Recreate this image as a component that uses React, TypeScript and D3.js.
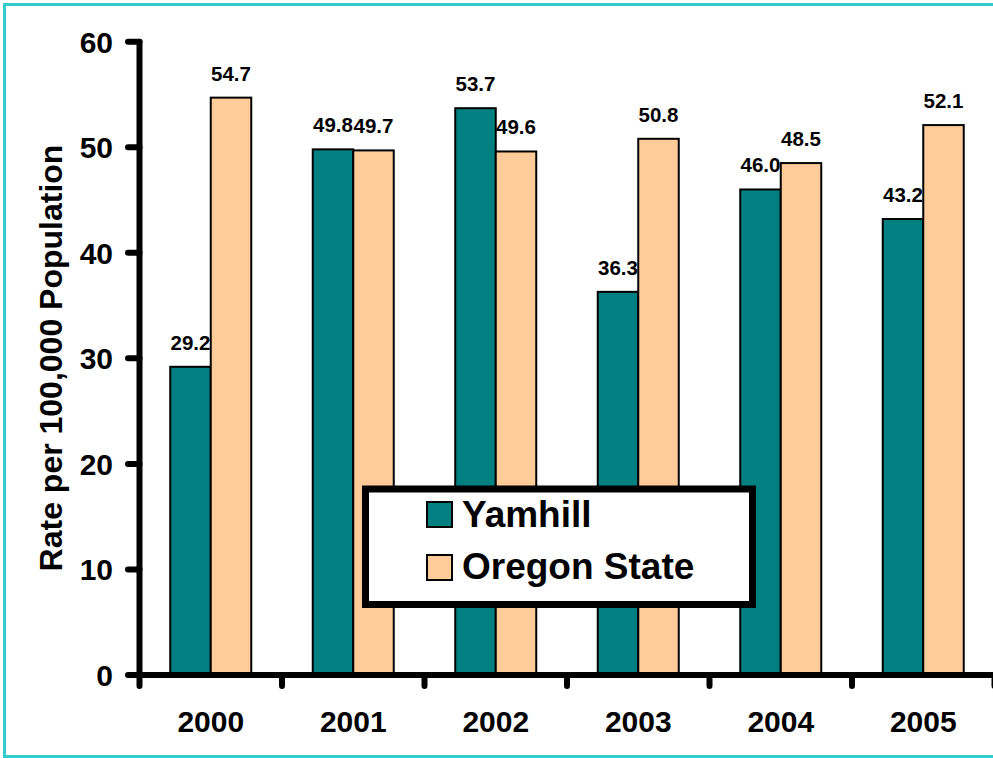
import React from "react";
import * as d3 from "d3";

const years = ["2000", "2001", "2002", "2003", "2004", "2005"];
const yamhill = [29.2, 49.8, 53.7, 36.3, 46.0, 43.2];
const oregon = [54.7, 49.7, 49.6, 50.8, 48.5, 52.1];
const seriesNames = ["Yamhill", "Oregon State"];
const yTicks = [0, 10, 20, 30, 40, 50, 60];
const yTitle = "Rate per 100,000 Population";

const W = 993;
const H = 758;
const TEAL = "#008080";
const PEACH = "#FFCC99";
const FONT = "'Liberation Sans', Arial, sans-serif";

export default function App() {
  const y = d3.scaleLinear().domain([0, 60]).range([675, 41.7]);
  const xLeft = 139.5;
  const xRight = 994.5;
  const x0 = d3
    .scaleBand<string>()
    .domain(years)
    .range([xLeft, xRight])
    .paddingInner(0.4316)
    .paddingOuter(0.2158);
  const x1 = d3.scaleBand<string>().domain(seriesNames).range([0, x0.bandwidth()]);
  const series = [yamhill, oregon];
  const colors = [TEAL, PEACH];
  const step = x0.step();
  const tickXs = years.map((_, i) => xLeft + i * step).concat([xLeft + years.length * step]);

  return (
    <svg
      width={W}
      height={H}
      style={{ position: "absolute", left: 0, top: 0, background: "#fff" }}
      fontFamily={FONT}
    >
      <rect x={0} y={0} width={W} height={H} fill="#fff" />
      {/* bars */}
      {years.map((yr, i) =>
        series.map((s, j) => {
          const bx = (x0(yr) as number) + (x1(seriesNames[j]) as number);
          const bw = x1.bandwidth();
          return (
            <rect
              key={yr + j}
              x={bx}
              y={y(s[i])}
              width={bw}
              height={y(0) - y(s[i])}
              fill={colors[j]}
              stroke="#000"
              strokeWidth={2}
            />
          );
        })
      )}
      {/* data labels */}
      {years.map((yr, i) =>
        series.map((s, j) => {
          const bx = (x0(yr) as number) + (x1(seriesNames[j]) as number);
          return (
            <text
              key={"l" + yr + j}
              x={bx + x1.bandwidth() / 2}
              y={y(s[i]) - 17}
              textAnchor="middle"
              fontSize={20.5}
              fontWeight="bold"
              fill="#000"
            >
              {s[i].toFixed(1)}
            </text>
          );
        })
      )}
      {/* y axis */}
      <line x1={xLeft} x2={xLeft} y1={y(60)} y2={y(0)} stroke="#000" strokeWidth={6} strokeLinecap="round" />
      {yTicks.map((t) => (
        <g key={"yt" + t}>
          <line x1={128} x2={xLeft} y1={y(t)} y2={y(t)} stroke="#000" strokeWidth={6} strokeLinecap="round" />
          <text
            x={113}
            y={y(t)}
            dy="0.36em"
            textAnchor="end"
            fontSize={30}
            fontWeight="bold"
            fill="#000"
          >
            {t}
          </text>
        </g>
      ))}
      {/* x axis */}
      <line x1={xLeft} x2={xRight + 5} y1={y(0)} y2={y(0)} stroke="#000" strokeWidth={6} strokeLinecap="round" />
      {tickXs.map((tx, i) => (
        <line key={"xt" + i} x1={tx} x2={tx} y1={y(0)} y2={686} stroke="#000" strokeWidth={6} strokeLinecap="round" />
      ))}
      {years.map((yr) => (
        <text
          key={"xl" + yr}
          x={(x0(yr) as number) + x0.bandwidth() / 2}
          y={732}
          textAnchor="middle"
          fontSize={30}
          fontWeight="bold"
          fill="#000"
        >
          {yr}
        </text>
      ))}
      {/* y title */}
      <text
        transform={`translate(62, 358) rotate(-90)`}
        textAnchor="middle"
        fontSize={32}
        fontWeight="bold"
        fill="#000"
      >
        {yTitle}
      </text>
      {/* legend */}
      <rect x={365.5} y={489} width={387} height={115.5} fill="#fff" stroke="#000" strokeWidth={7} />
      {seriesNames.map((n, j) => (
        <g key={"lg" + n}>
          <rect x={427} y={502 + j * 53} width={25} height={25} fill={colors[j]} stroke="#000" strokeWidth={2} />
          <text x={462} y={527 + j * 52} fontSize={37} fontWeight="bold" fill="#000">
            {n}
          </text>
        </g>
      ))}
      {/* frame */}
      <rect x={4.5} y={4.5} width={1010} height={752} fill="none" stroke="#33CCCC" strokeWidth={3} />
    </svg>
  );
}
